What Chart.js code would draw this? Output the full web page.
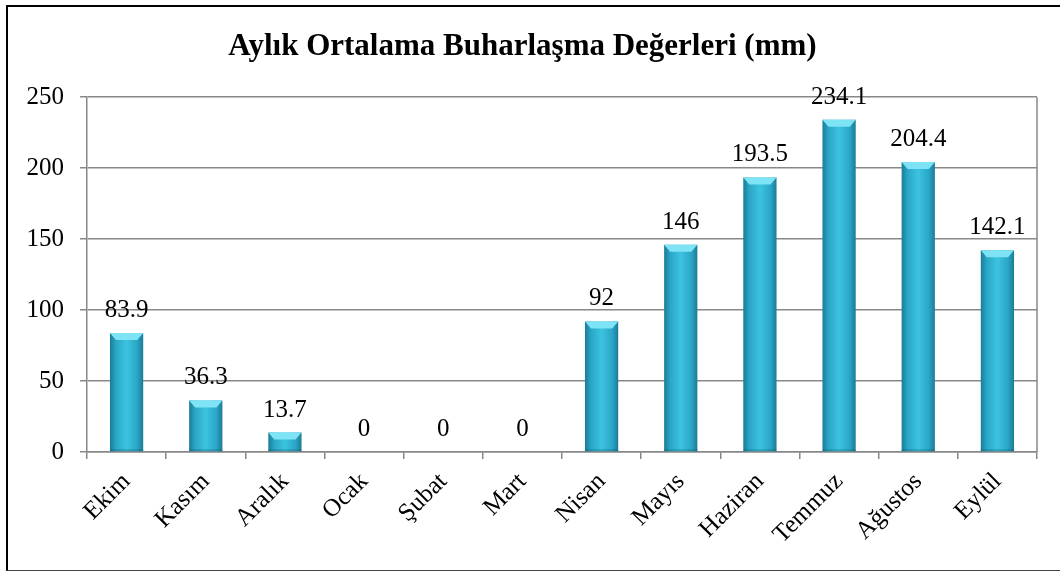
<!DOCTYPE html>
<html>
<head>
<meta charset="utf-8">
<script src="https://cdn.jsdelivr.net/npm/chart.js@4"></script>
<style>
  html, body { margin: 0; padding: 0; background: #fff; overflow: hidden; }
  #frame {
    position: absolute; left: 6px; top: 5px; width: 1060px; height: 563px;
    border-left: 2px solid #000; border-top: 2px solid #000; border-bottom: 1px solid #444;
  }
  #wrap { position: absolute; left: 8px; top: 8px; width: 1052px; height: 562px; }
</style>
</head>
<body>
<div id="frame"></div>
<div id="wrap"><canvas id="evapChart"></canvas></div>
<script>
const months = ['Ekim', 'Kasım', 'Aralık', 'Ocak', 'Şubat', 'Mart', 'Nisan', 'Mayıs', 'Haziran', 'Temmuz', 'Ağustos', 'Eylül'];
const evaporation = [83.9, 36.3, 13.7, 0, 0, 0, 92, 146, 193.5, 234.1, 204.4, 142.1];
const yTicks = [0, 50, 100, 150, 200, 250];

const serif = '"Liberation Serif", "Times New Roman", serif';

// Horizontal shading of each bar
function barFill(ctx) {
    const chart = ctx.chart;
    if (!chart.chartArea || !chart.scales.x) return '#2fb0d0';
    const meta = chart.getDatasetMeta(0);
    const el = meta.data[ctx.dataIndex];
    const cx = chart.scales.x.getPixelForValue(ctx.dataIndex);
    const w = el && el.width ? el.width : 33;
    const g = chart.ctx.createLinearGradient(cx - w / 2, 0, cx + w / 2, 0);
    g.addColorStop(0, '#1b7d98');
    g.addColorStop(0.18, '#2aa6c6');
    g.addColorStop(0.5, '#3cc3e0');
    g.addColorStop(0.82, '#2aa6c6');
    g.addColorStop(1, '#1b7d98');
    return g;
}

// bevel on top of bars + value labels + right plot edge
const extras = {
    id: 'extras',
    afterDatasetsDraw(chart) {
        const c = chart.ctx;
        const area = chart.chartArea;
        const meta = chart.getDatasetMeta(0);
        c.save();
        meta.data.forEach((bar, i) => {
            const v = evaporation[i];
            const half = bar.width / 2;
            if (v > 0) {
                const h = Math.min(7, (bar.base - bar.y) / 2);
                c.fillStyle = '#7fe3f6';
                c.beginPath();
                c.moveTo(bar.x - half, bar.y);
                c.lineTo(bar.x + half, bar.y);
                c.lineTo(bar.x + half - 6, bar.y + h);
                c.lineTo(bar.x - half + 6, bar.y + h);
                c.closePath();
                c.fill();
                c.fillStyle = 'rgba(10,70,90,0.25)';
                c.fillRect(bar.x - half, bar.base - 2, bar.width, 2);
            }
            c.fillStyle = '#000';
            c.font = '25px ' + serif;
            c.textAlign = 'center';
            c.textBaseline = 'alphabetic';
            c.fillText(String(v), bar.x, bar.y - 16);
        });
        c.strokeStyle = '#888';
        c.lineWidth = 1.5;
        c.beginPath();
        c.moveTo(area.right, area.top);
        c.lineTo(area.right, area.bottom);
        c.stroke();
        c.restore();
    }
};

const ctx = document.getElementById('evapChart').getContext('2d');
new Chart(ctx, {
    type: 'bar',
    data: {
        labels: months,
        datasets: [{
            data: evaporation,
            backgroundColor: barFill,
            borderWidth: 0,
            barPercentage: 0.42,
            categoryPercentage: 1
        }]
    },
    options: {
        responsive: true,
        maintainAspectRatio: false,
        animation: false,
        layout: { padding: { left: 0, right: 23, top: 0, bottom: 0 } },
        plugins: {
            legend: { display: false },
            tooltip: { enabled: false },
            title: {
                display: true,
                text: 'Aylık Ortalama Buharlaşma Değerleri (mm)',
                color: '#000',
                font: { family: serif, size: 31, weight: 'bold' },
                padding: { top: 20, bottom: 32 }
            }
        },
        scales: {
            x: {
                grid: { display: true, drawOnChartArea: false, offset: true, tickLength: 7, color: '#888', lineWidth: 1.5 },
                border: { color: '#888', width: 1.5 },
                ticks: {
                    color: '#000', font: { family: serif, size: 25 },
                    maxRotation: 45, minRotation: 45, padding: 8, autoSkip: false
                },
                afterFit(s) { s.height = 118; }
            },
            y: {
                min: 0, max: 250,
                afterBuildTicks(s) { s.ticks = yTicks.map(v => ({ value: v })); },
                grid: { color: '#888', lineWidth: 1.5, tickLength: 7 },
                border: { color: '#888', width: 1.5 },
                ticks: { color: '#000', font: { family: serif, size: 25 }, padding: 16 },
                afterFit(s) { s.width = 79; }
            }
        }
    },
    plugins: [extras]
});
</script>
</body>
</html>
